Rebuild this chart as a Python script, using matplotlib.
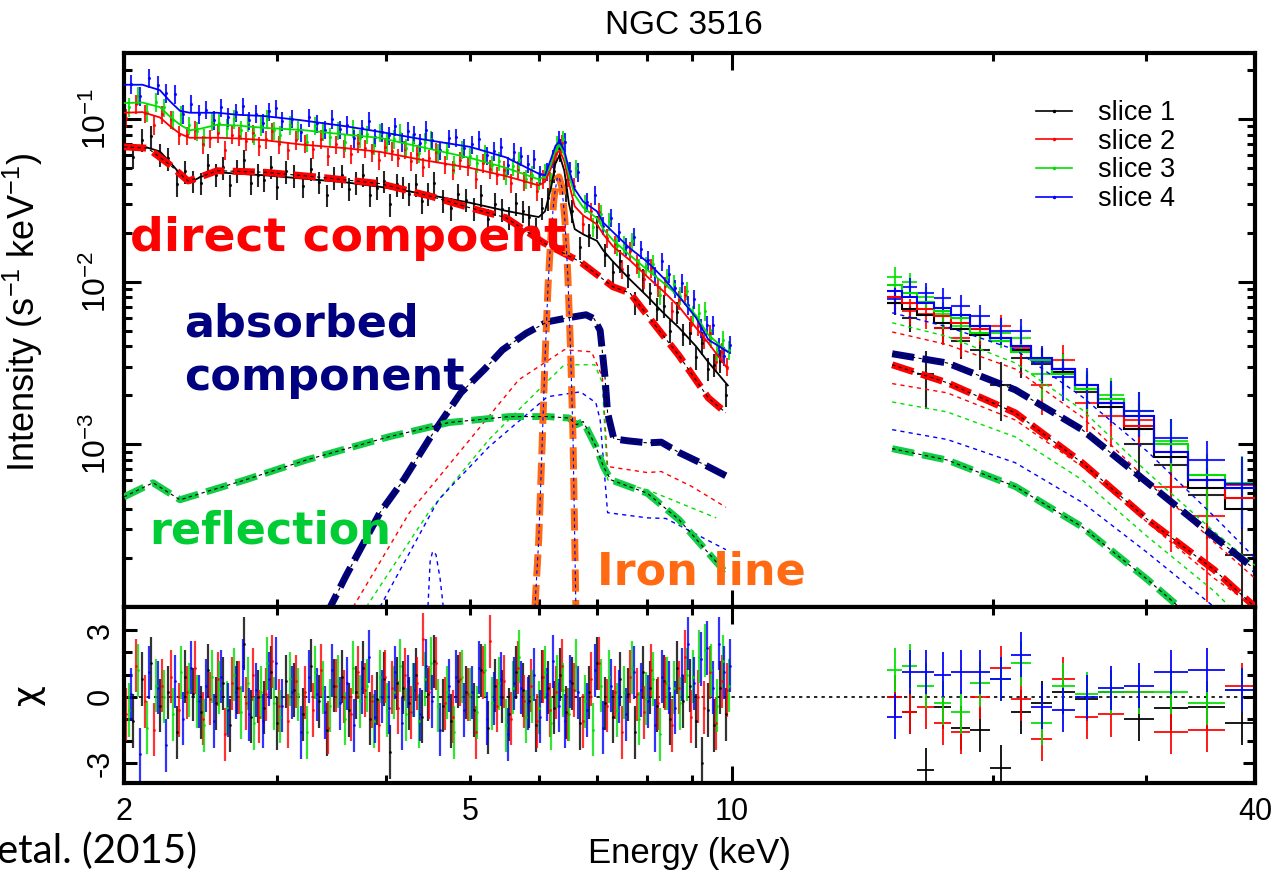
import numpy as np
import matplotlib
matplotlib.use("Agg")
import matplotlib.pyplot as plt
from matplotlib.lines import Line2D
from matplotlib.ticker import FixedLocator, FuncFormatter, NullFormatter

TITLE = "NGC 3516"
SLICE_LABELS = ["slice 1", "slice 2", "slice 3", "slice 4"]
SLICE_COLORS = ["#000000", "#ff0000", "#00e000", "#0000ff"]

# ---------------- XIS band (2-10 keV): bin energies per slice ----------------
E_LO_1 = [2.00, 2.05, 2.10, 2.15, 2.20, 2.25, 2.30, 2.35, 2.40, 2.45,
          2.50, 2.55, 2.60, 2.65, 2.70, 2.75, 2.80, 2.85, 2.90, 2.95,
          3.00, 3.07, 3.14, 3.21, 3.28, 3.35, 3.42, 3.49, 3.56, 3.63,
          3.70, 3.77, 3.84, 3.91, 3.98, 4.05, 4.12, 4.19, 4.26, 4.33,
          4.40, 4.47, 4.55, 4.65, 4.75, 4.85, 4.95, 5.05, 5.15, 5.25,
          5.35, 5.45, 5.55, 5.65, 5.75, 5.85, 5.95, 6.05, 6.15, 6.25,
          6.35, 6.45, 6.55, 6.70, 6.85, 7.00, 7.15, 7.30, 7.45, 7.60,
          7.75, 7.90, 8.05, 8.20, 8.35, 8.50, 8.65, 8.80, 8.95, 9.10,
          9.25, 9.40, 9.55, 9.70, 9.85]
E_LO_2 = [2.013, 2.063, 2.113, 2.163, 2.213, 2.263, 2.313, 2.363, 2.413, 2.463,
          2.513, 2.563, 2.613, 2.663, 2.713, 2.763, 2.813, 2.863, 2.913, 2.963,
          3.013, 3.088, 3.158, 3.228, 3.298, 3.368, 3.438, 3.508, 3.578, 3.648,
          3.718, 3.788, 3.858, 3.928, 3.998, 4.068, 4.138, 4.208, 4.278, 4.348,
          4.418, 4.488, 4.575, 4.675, 4.775, 4.875, 4.975, 5.075, 5.175, 5.275,
          5.375, 5.475, 5.575, 5.675, 5.775, 5.875, 5.975, 6.075, 6.175, 6.275,
          6.375, 6.475, 6.588, 6.738, 6.888, 7.038, 7.188, 7.338, 7.488, 7.638,
          7.788, 7.938, 8.088, 8.238, 8.388, 8.538, 8.688, 8.838, 8.988, 9.138,
          9.288, 9.438, 9.588, 9.738, 9.888]
E_LO_3 = [2.025, 2.075, 2.125, 2.175, 2.225, 2.275, 2.325, 2.375, 2.425, 2.475,
          2.525, 2.575, 2.625, 2.675, 2.725, 2.775, 2.825, 2.875, 2.925, 2.975,
          3.025, 3.105, 3.175, 3.245, 3.315, 3.385, 3.455, 3.525, 3.595, 3.665,
          3.735, 3.805, 3.875, 3.945, 4.015, 4.085, 4.155, 4.225, 4.295, 4.365,
          4.435, 4.505, 4.60, 4.70, 4.80, 4.90, 5.00, 5.10, 5.20, 5.30,
          5.40, 5.50, 5.60, 5.70, 5.80, 5.90, 6.00, 6.10, 6.20, 6.30,
          6.40, 6.50, 6.625, 6.775, 6.925, 7.075, 7.225, 7.375, 7.525, 7.675,
          7.825, 7.975, 8.125, 8.275, 8.425, 8.575, 8.725, 8.875, 9.025, 9.175,
          9.325, 9.475, 9.625, 9.775, 9.925]
E_LO_4 = [2.038, 2.088, 2.138, 2.188, 2.238, 2.288, 2.338, 2.388, 2.438, 2.488,
          2.538, 2.588, 2.638, 2.688, 2.738, 2.788, 2.838, 2.888, 2.938, 2.988,
          3.038, 3.123, 3.193, 3.263, 3.333, 3.403, 3.473, 3.543, 3.613, 3.683,
          3.753, 3.823, 3.893, 3.963, 4.033, 4.103, 4.173, 4.243, 4.313, 4.383,
          4.453, 4.523, 4.625, 4.725, 4.825, 4.925, 5.025, 5.125, 5.225, 5.325,
          5.425, 5.525, 5.625, 5.725, 5.825, 5.925, 6.025, 6.125, 6.225, 6.325,
          6.425, 6.525, 6.663, 6.813, 6.963, 7.113, 7.263, 7.413, 7.563, 7.713,
          7.863, 8.013, 8.163, 8.313, 8.463, 8.613, 8.763, 8.913, 9.063, 9.213,
          9.363, 9.513, 9.663, 9.813, 9.963]

FLUX_LO_1 = [0.0684, 0.0582, 0.0745, 0.0779, 0.0600, 0.0573, 0.0396, 0.0476, 0.0415, 0.0403,
             0.0521, 0.0453, 0.0504, 0.0392, 0.0482, 0.0557, 0.0406, 0.0452, 0.0423, 0.0506,
             0.0379, 0.0475, 0.0450, 0.0388, 0.0495, 0.0409, 0.0340, 0.0435, 0.0449, 0.0372,
             0.0406, 0.0452, 0.0341, 0.0378, 0.0415, 0.0298, 0.0396, 0.0381, 0.0346, 0.0396,
             0.0311, 0.0348, 0.0404, 0.0316, 0.0282, 0.0345, 0.0318, 0.0282, 0.0340, 0.0241,
             0.0301, 0.0278, 0.0246, 0.0302, 0.0271, 0.0251, 0.0213, 0.0283, 0.0325, 0.0479,
             0.0650, 0.0366, 0.0273, 0.0162, 0.0194, 0.0218, 0.0146, 0.0115, 0.0134, 0.0109,
             0.0074, 0.0103, 0.0085, 0.0068, 0.0071, 0.0050, 0.0065, 0.00475, 0.00484, 0.00342,
             0.0042, 0.00291, 0.00309, 0.00327, 0.00202]
FLUX_LO_2 = [0.1012, 0.1233, 0.1080, 0.0917, 0.1066, 0.0995, 0.0795, 0.0794, 0.0855, 0.0696,
             0.0758, 0.0820, 0.0646, 0.0801, 0.0785, 0.0733, 0.0816, 0.0684, 0.0747, 0.0837,
             0.0699, 0.0640, 0.0744, 0.0705, 0.0649, 0.0752, 0.0587, 0.0696, 0.0660, 0.0607,
             0.0712, 0.0658, 0.0624, 0.0555, 0.0673, 0.0636, 0.0578, 0.0650, 0.0550, 0.0609,
             0.0508, 0.0571, 0.0627, 0.0526, 0.0487, 0.0557, 0.0515, 0.0427, 0.0536, 0.0494,
             0.0449, 0.0484, 0.0405, 0.0485, 0.0415, 0.0431, 0.0361, 0.0427, 0.0416, 0.0611,
             0.0709, 0.0436, 0.0384, 0.0225, 0.0270, 0.0269, 0.0185, 0.0169, 0.0120, 0.0155,
             0.0128, 0.0104, 0.0121, 0.0092, 0.0094, 0.0066, 0.0077, 0.0083, 0.0054, 0.0053,
             0.0044, 0.0048, 0.0032, 0.0037, 0.0030]
FLUX_LO_3 = [0.1183, 0.1391, 0.1101, 0.1275, 0.1180, 0.0984, 0.1055, 0.0914, 0.0845, 0.0768,
             0.0962, 0.0943, 0.0877, 0.0997, 0.0853, 0.0951, 0.0798, 0.0904, 0.0999, 0.0851,
             0.0798, 0.0920, 0.0857, 0.0717, 0.0908, 0.0844, 0.0777, 0.0847, 0.0718, 0.0873,
             0.0761, 0.0803, 0.0688, 0.0824, 0.0714, 0.0754, 0.0819, 0.0662, 0.0718, 0.0617,
             0.0720, 0.0749, 0.0624, 0.0642, 0.0526, 0.0648, 0.0588, 0.0532, 0.0613, 0.0523,
             0.0551, 0.0449, 0.0511, 0.0557, 0.0427, 0.0451, 0.0417, 0.0470, 0.0410, 0.0691,
             0.0750, 0.0483, 0.0496, 0.0302, 0.0217, 0.0261, 0.0235, 0.0166, 0.0169, 0.0177,
             0.0121, 0.0125, 0.0128, 0.0083, 0.0106, 0.0097, 0.0082, 0.0088, 0.0063, 0.0064,
             0.0066, 0.0045, 0.0037, 0.0044, 0.0038]
FLUX_LO_4 = [0.1635, 0.1387, 0.1780, 0.1616, 0.1446, 0.1424, 0.1074, 0.1240, 0.1070, 0.1139,
             0.0982, 0.1178, 0.1026, 0.1094, 0.1194, 0.0979, 0.1078, 0.0942, 0.1115, 0.1163,
             0.0974, 0.1003, 0.0826, 0.1024, 0.0940, 0.0859, 0.0999, 0.0863, 0.0919, 0.0758,
             0.0875, 0.0975, 0.0768, 0.0834, 0.0794, 0.0900, 0.0720, 0.0845, 0.0804, 0.0715,
             0.0855, 0.0736, 0.0639, 0.0759, 0.0771, 0.0662, 0.0699, 0.0750, 0.0597, 0.0635,
             0.0671, 0.0518, 0.0628, 0.0592, 0.0531, 0.0568, 0.0456, 0.0475, 0.0572, 0.0740,
             0.0720, 0.0480, 0.0472, 0.0309, 0.0341, 0.0221, 0.0247, 0.0202, 0.0164, 0.0189,
             0.0158, 0.0136, 0.0108, 0.0133, 0.0112, 0.0091, 0.0098, 0.0072, 0.0078, 0.0052,
             0.0054, 0.0054, 0.0040, 0.0035, 0.0041]
RELERR_LO = [0.16, 0.13, 0.13, 0.13]

# residuals (chi) for the XIS bins
CHI_LO_1 = [0.3, -1.1, 0.8, 1.5, -0.4, 0.2, -1.6, 0.9, 0.1, -0.7,
            1.2, -0.3, 0.6, -1.3, 0.4, 2.4, -0.9, 0.0, -0.5, 1.1,
            -1.2, 0.7, 0.3, -0.8, 1.4, -0.2, -1.5, 0.5, 0.9, -0.6,
            0.2, 1.3, -1.0, -0.1, 0.8, -2.5, 0.6, 0.4, -0.3, 1.0,
            -0.9, 0.1, 1.6, -0.4, -1.1, 0.7, 0.2, -0.6, 1.2, -1.4,
            0.5, 0.0, -0.8, 1.1, 0.3, -0.2, -1.3, 0.9, 0.4, -0.5,
            1.0, -0.7, 0.6, -1.2, 0.2, 1.5, -0.3, -0.9, 0.8, 0.1,
            -1.6, 1.1, 0.4, -0.4, 0.7, -1.0, 1.3, -0.2, 0.5, -1.1,
            -3.0, -0.6, -1.3, 0.4, -0.8]
CHI_LO_2 = [-0.8, 1.4, -0.2, -1.5, 0.5, 0.9, -0.6, 0.2, 1.3, -1.0,
            -0.1, 0.8, -1.7, 0.6, 0.4, -0.3, 1.0, -0.9, 0.1, 1.6,
            -0.4, -1.1, 0.7, 0.2, -0.6, 1.2, -1.4, 0.5, 0.0, -0.8,
            1.1, 0.3, -0.2, -1.3, 0.9, 0.4, -0.5, 1.0, -0.7, 0.6,
            2.6, 0.2, 1.5, -0.3, -0.9, 0.8, 0.1, -1.6, 1.1, 2.5,
            -0.4, 0.7, -1.0, 1.3, -0.2, 0.5, -1.1, 0.9, -0.6, 0.2,
            1.4, -0.8, 0.3, -1.1, 0.8, 1.5, -0.4, 0.2, -1.6, 0.9,
            0.1, -0.7, 1.2, -0.3, 0.6, -1.3, 0.4, 1.8, -0.9, 0.0,
            -0.5, 1.1, -1.2, 0.7, 0.3]
CHI_LO_3 = [-0.6, 1.2, -1.4, 0.5, 0.0, -0.8, 1.1, 0.3, -0.2, -1.3,
            0.9, 0.4, -0.5, 1.0, -0.7, 0.6, -1.2, 0.2, 1.5, -0.3,
            -0.9, 0.8, 0.1, -1.6, 1.1, 0.4, -0.4, 0.7, -1.0, 1.3,
            -0.2, 0.5, -1.1, 0.9, -0.6, 0.2, 1.4, -0.8, 0.3, -1.1,
            0.8, 1.5, -0.4, 0.2, -1.6, 0.9, 0.1, -0.7, 1.2, -0.3,
            0.6, -1.3, 0.4, 1.8, -0.9, 0.0, -0.5, 1.1, -1.2, 0.7,
            0.3, -0.8, 1.4, -0.2, -1.5, 0.5, 0.9, -0.6, 0.2, 1.3,
            -1.0, -0.1, 0.8, -1.7, 0.6, 0.4, -0.3, 1.0, 0.9, 1.8,
            2.1, 1.2, -0.4, 1.6, 0.5]
CHI_LO_4 = [0.1, -2.6, 1.1, 0.4, -2.2, 0.7, -1.0, 1.3, -0.2, 0.5,
            -1.1, 0.9, -0.6, 0.2, 1.4, -0.8, 0.3, -1.1, 0.8, 1.5,
            -0.4, 0.2, -1.6, 0.9, 0.1, -0.7, 1.2, -0.3, 0.6, -1.3,
            0.4, 1.8, -0.9, 0.0, -0.5, 1.1, -1.2, 0.7, 0.3, -0.8,
            1.4, -0.2, -1.5, 0.5, 0.9, -0.6, 0.2, 1.3, -1.0, -0.1,
            0.8, -1.7, 0.6, 0.4, -0.3, 1.0, -0.9, 0.1, 1.6, -0.4,
            -1.1, 0.7, 0.2, -0.6, 1.2, -1.4, 0.5, 0.0, -0.8, 1.1,
            0.3, -0.2, -1.3, 0.9, 0.4, -0.5, 1.0, 2.4, 0.6, 1.7,
            2.2, 0.4, 2.4, 1.1, 1.4]

# folded best-fit model for each slice (XIS band)
E_MOD_LO = [2.0, 2.1, 2.2, 2.26, 2.32, 2.38, 2.45, 2.56, 2.7, 2.9,
            3.2, 3.6, 3.94, 4.4, 5.0, 5.5, 6.0, 6.1, 6.2, 6.27,
            6.34, 6.42, 6.5, 6.6, 6.75, 7.0, 7.12, 7.3, 7.64, 8.0,
            8.35, 8.7, 9.1, 9.4, 9.9]
MOD_LO_1 = [0.066, 0.068, 0.063, 0.054, 0.046, 0.0404, 0.044, 0.047, 0.046, 0.045,
            0.043, 0.0407, 0.0382, 0.0348, 0.0305, 0.0272, 0.0249, 0.027, 0.038, 0.053,
            0.060, 0.048, 0.030, 0.021, 0.0195, 0.0178, 0.0155, 0.0133, 0.0103, 0.0081,
            0.0064, 0.0052, 0.0040, 0.0032, 0.0023]
MOD_LO_2 = [0.109, 0.110, 0.102, 0.090, 0.081, 0.0765, 0.0765, 0.0765, 0.0758, 0.074,
            0.0695, 0.066, 0.0627, 0.056, 0.050, 0.0445, 0.039, 0.041, 0.050, 0.060,
            0.064, 0.055, 0.040, 0.029, 0.0255, 0.0225, 0.0195, 0.0165, 0.0135, 0.0107,
            0.0087, 0.0070, 0.0052, 0.0042, 0.0029]
MOD_LO_3 = [0.125, 0.126, 0.118, 0.103, 0.092, 0.085, 0.087, 0.092, 0.091, 0.088,
            0.0855, 0.080, 0.0764, 0.067, 0.0576, 0.050, 0.0425, 0.044, 0.053, 0.064,
            0.069, 0.060, 0.045, 0.034, 0.0285, 0.0245, 0.021, 0.018, 0.0145, 0.0118,
            0.0098, 0.0081, 0.0062, 0.0047, 0.0037]
MOD_LO_4 = [0.162, 0.162, 0.150, 0.128, 0.112, 0.109, 0.109, 0.109, 0.106, 0.104,
            0.098, 0.090, 0.0832, 0.075, 0.0673, 0.058, 0.046, 0.045, 0.057, 0.068,
            0.073, 0.064, 0.049, 0.037, 0.031, 0.027, 0.023, 0.0202, 0.0160, 0.0132,
            0.0105, 0.0081, 0.0060, 0.0044, 0.0037]

# ---------------- HXD band (15-40 keV) ----------------
HX_EDGES = [15.1, 15.7, 16.35, 17.1, 17.9, 18.8, 19.85, 20.95, 22.1, 23.35,
            24.8, 26.4, 28.3, 30.6, 33.5, 36.9, 40.4]
HX_MOD_1 = [0.0074, 0.0068, 0.0062, 0.0056, 0.0051, 0.0047, 0.0043, 0.0038,
            0.0033, 0.0028, 0.0022, 0.0017, 0.00125, 0.00083, 0.00054, 0.00040]
HX_MOD_2 = [0.0080, 0.0074, 0.0068, 0.0061, 0.0056, 0.0051, 0.0045, 0.0040,
            0.0033, 0.0029, 0.0022, 0.0018, 0.0013, 0.0009, 0.0006, 0.00047]
HX_MOD_3 = [0.0095, 0.0085, 0.0075, 0.0066, 0.0060, 0.0048, 0.0043, 0.0037,
            0.0033, 0.0027, 0.0022, 0.0019, 0.0015, 0.0010, 0.00065, 0.00054]
HX_MOD_4 = [0.0087, 0.0080, 0.0074, 0.0069, 0.0062, 0.0053, 0.0045, 0.0040,
            0.0034, 0.0029, 0.0023, 0.0018, 0.0015, 0.0009, 0.0006, 0.00054]
HX_FLUX_1 = [0.0074, 0.0060, 0.0027, 0.0052, 0.0043, 0.0038, 0.0023, 0.0034,
             0.0031, 0.0029, 0.0021, 0.0018, 0.0010, 0.00075, 0.00049, 0.00021]
HX_FLUX_2 = [0.0080, 0.0066, 0.0063, 0.0052, 0.0045, 0.0051, 0.0053, 0.0039,
             0.0023, 0.0033, 0.0018, 0.0015, 0.0014, 0.00055, 0.00036, 0.00056]
HX_FLUX_3 = [0.0107, 0.0100, 0.0080, 0.0063, 0.0053, 0.0053, 0.0048, 0.0045,
             0.0027, 0.0029, 0.0022, 0.0020, 0.0016, 0.00105, 0.00060, 0.00058]
HX_FLUX_4 = [0.0078, 0.0092, 0.0085, 0.0079, 0.0071, 0.0061, 0.0050, 0.0050,
             0.0032, 0.0026, 0.0023, 0.0019, 0.0016, 0.0011, 0.0008, 0.00057]
HX_RELERR = [0.16, 0.16, 0.17, 0.18, 0.19, 0.20, 0.21, 0.22,
             0.24, 0.26, 0.28, 0.30, 0.33, 0.37, 0.42, 0.50]
HX_CHI_1 = [0.0, -0.7, -3.3, -0.45, -1.4, -1.5, -3.2, -0.7, -0.3, 0.2, -0.1, 0.2, -1.0, -0.5, -0.45, -1.2]
HX_CHI_2 = [0.0, -0.7, -0.45, -1.2, -1.6, 0.0, 1.3, -0.1, -1.9, 0.8, -0.9, -0.8, 0.2, -1.6, -1.5, 0.5]
HX_CHI_3 = [1.2, 1.4, 0.5, -0.3, -0.7, 0.6, 0.8, 1.5, -1.2, 0.5, 0.1, 0.2, 0.2, 0.2, -0.3, 0.3]
HX_CHI_4 = [-0.9, 1.1, 1.1, 1.0, 1.1, 1.1, 0.8, 1.9, -0.45, -0.6, 0.0, 0.4, 0.5, 1.1, 1.2, 0.3]

# ---------------- model components ----------------
# direct (slice 1)
E_DIR_LO = [2.0, 2.13, 2.26, 2.37, 2.45, 2.56, 2.9, 3.4, 3.94, 4.5,
            5.0, 5.5, 6.08, 6.7, 7.3, 7.64, 8.0, 8.7, 9.4, 9.85]
DIR_LO_1 = [0.0673, 0.066, 0.052, 0.0415, 0.044, 0.048, 0.047, 0.0435, 0.040, 0.0335,
            0.0284, 0.0247, 0.0173, 0.0132, 0.0093, 0.0085, 0.0062, 0.0035, 0.00193, 0.00156]
# absorbed (slices 1-4)
E_ABS_LO_1 = [3.42, 3.6, 3.94, 4.2, 4.5, 4.88, 5.2, 5.45, 5.8, 6.14, 6.5, 6.8,
              6.95, 7.06, 7.15, 7.2, 7.32, 7.6, 8.0, 8.3, 8.7, 9.3, 9.85]
ABS_LO_1 = [9.0e-5, 1.55e-4, 3.8e-4, 6.1e-4, 1.1e-3, 2.07e-3, 2.9e-3, 3.8e-3, 4.8e-3, 5.66e-3,
            6.0e-3, 6.25e-3, 5.9e-3, 5.0e-3, 2.6e-3, 1.56e-3, 1.08e-3, 1.05e-3, 1.02e-3,
            1.03e-3, 8.9e-4, 7.5e-4, 6.4e-4]
E_ABS_LO_2 = [3.67, 4.26, 5.0, 5.69, 6.42, 6.9, 7.1, 7.2, 8.0, 8.3, 9.0, 9.85]
ABS_LO_2 = [1.0e-4, 3.8e-4, 1.07e-3, 2.49e-3, 3.81e-3, 3.7e-3, 2.6e-3, 7.3e-4, 6.7e-4, 6.8e-4, 5.5e-4, 4.1e-4]
E_ABS_LO_3 = [3.8, 4.48, 5.26, 6.0, 6.42, 6.96, 7.1, 7.2, 8.0, 9.6]
ABS_LO_3 = [1.0e-4, 3.8e-4, 1.07e-3, 2.16e-3, 3.08e-3, 3.08e-3, 2.39e-3, 6.05e-4, 5.25e-4, 3.53e-4]
E_ABS_LO_4 = [3.94, 4.6, 5.26, 6.14, 6.7, 6.98, 7.06, 7.2, 8.0, 8.4, 9.85]
ABS_LO_4 = [1.0e-4, 4.56e-4, 9.66e-4, 1.96e-3, 2.1e-3, 1.8e-3, 1.41e-3, 3.8e-4, 3.53e-4, 3.5e-4, 2.25e-4]
# reflection
E_REF_LO = [2.0, 2.16, 2.32, 2.76, 3.24, 4.03, 4.73, 5.55, 6.14, 6.5, 6.63, 6.75,
            6.98, 7.12, 7.26, 8.0, 8.7, 9.85]
REF_LO = [4.75e-4, 5.8e-4, 4.56e-4, 6.05e-4, 8.0e-4, 1.11e-3, 1.36e-3, 1.48e-3, 1.48e-3,
          1.45e-3, 1.32e-3, 1.38e-3, 9.7e-4, 7.3e-4, 6.05e-4, 5.0e-4, 3.44e-4, 1.62e-4]
# iron K-alpha line
E_FE = [5.94, 6.0, 6.05, 6.1, 6.15, 6.2, 6.25, 6.3, 6.33, 6.38, 6.43, 6.48, 6.53, 6.57, 6.62]
FE_LINE = [1.0e-4, 2.6e-4, 9e-4, 3.3e-3, 9.5e-3, 0.020, 0.033, 0.043, 0.044, 0.038,
           0.024, 0.011, 3.6e-3, 1.1e-3, 1.0e-4]
# weak narrow feature
E_WEAK = [4.47, 4.50, 4.53, 4.57, 4.62, 4.67]
WEAK_LINE = [0.9e-4, 1.9e-4, 2.2e-4, 2.1e-4, 1.5e-4, 0.9e-4]

# HXD-band components
E_COMP_HX = [15.3, 17.7, 21.2, 25.3, 30.1, 35.9, 40.0]
ABS_HX_1 = [3.6e-3, 3.16e-3, 2.16e-3, 1.23e-3, 5.8e-4, 2.7e-4, 1.7e-4]
DIR_HX_1 = [3.08e-3, 2.39e-3, 1.56e-3, 7.7e-4, 3.44e-4, 1.69e-4, 1.0e-4]
REF_HX = [9.4e-4, 8.0e-4, 5.5e-4, 3.11e-4, 1.47e-4, 6.5e-5, 4.0e-5]
DIR_HX_2 = [4.9e-3, 4.1e-3, 2.9e-3, 1.47e-3, 6.0e-4, 2.5e-4, 1.5e-4]
DIR_HX_3 = [5.58e-3, 4.6e-3, 3.16e-3, 1.63e-3, 6.7e-4, 2.9e-4, 1.8e-4]
DIR_HX_4 = [6.43e-3, 5.27e-3, 3.81e-3, 1.96e-3, 9.0e-4, 3.6e-4, 2.0e-4]
ABS_HX_2 = [2.36e-3, 2.07e-3, 1.41e-3, 7.3e-4, 3.3e-4, 1.5e-4, 1.0e-4]
ABS_HX_3 = [1.82e-3, 1.58e-3, 1.11e-3, 6.05e-4, 2.7e-4, 1.25e-4, 7.0e-5]
ABS_HX_4 = [1.23e-3, 1.07e-3, 7.7e-4, 4.4e-4, 2.15e-4, 1.0e-4, 6.0e-5]

# axis setup values
X_MAJOR = [2, 10, 40]
X_MINOR = [3, 4, 5, 6, 7, 8, 9, 20, 30]
X_LABELS = {2: "2", 5: "5", 10: "10", 40: "40"}

# ---------------- figure ----------------
plt.rcParams["font.family"] = ["Liberation Sans", "DejaVu Sans"]
plt.rcParams["mathtext.fontset"] = "custom"
plt.rcParams["mathtext.rm"] = "Liberation Sans"
plt.rcParams["mathtext.it"] = "Liberation Sans:italic"
plt.rcParams["mathtext.bf"] = "Liberation Sans:bold"

fig = plt.figure(figsize=(12.74, 8.74), dpi=100)
ax = fig.add_axes([0.0973, 0.3055, 0.8878, 0.6339])
ax2 = fig.add_axes([0.0973, 0.1041, 0.8878, 0.2014], sharex=ax)

hx_edges = np.array(HX_EDGES)
hx_mid = 0.5 * (hx_edges[:-1] + hx_edges[1:])
hx_half = 0.5 * np.diff(hx_edges)

slices = [
    (E_LO_1, FLUX_LO_1, MOD_LO_1, CHI_LO_1, HX_FLUX_1, HX_MOD_1, HX_CHI_1),
    (E_LO_2, FLUX_LO_2, MOD_LO_2, CHI_LO_2, HX_FLUX_2, HX_MOD_2, HX_CHI_2),
    (E_LO_3, FLUX_LO_3, MOD_LO_3, CHI_LO_3, HX_FLUX_3, HX_MOD_3, HX_CHI_3),
    (E_LO_4, FLUX_LO_4, MOD_LO_4, CHI_LO_4, HX_FLUX_4, HX_MOD_4, HX_CHI_4),
]

for i, (elo, flo, mlo, clo, fhx, mhx, chx) in enumerate(slices):
    c = SLICE_COLORS[i]
    f = np.array(flo)
    ax.errorbar(elo, f, yerr=RELERR_LO[i] * f, fmt=".", ms=2.5, color=c,
                elinewidth=1.5, capsize=0, alpha=0.85, zorder=2)
    ax.plot(E_MOD_LO, mlo, color=c, lw=1.3, zorder=3)
    m = np.array(mhx)
    ax.errorbar(hx_mid, fhx, xerr=hx_half, yerr=np.array(HX_RELERR) * m, fmt="none",
                ecolor=c, elinewidth=1.5, capsize=0, alpha=0.85, zorder=2)
    ax.stairs(mhx, hx_edges, baseline=None, color=c, lw=1.5, zorder=3)
    ax2.errorbar(elo, clo, yerr=1.2, fmt=".", ms=2, color=c, elinewidth=1.6,
                 capsize=0, alpha=0.8, zorder=2)
    ax2.errorbar(hx_mid, chx, xerr=hx_half, yerr=1.0, fmt="none", ecolor=c,
                 elinewidth=1.4, capsize=0, alpha=0.9, zorder=2)

# thin dotted components for slices 2-4
dot = (0, (3, 3))
for e, v, c in [(E_ABS_LO_2, ABS_LO_2, SLICE_COLORS[1]),
                (E_ABS_LO_3, ABS_LO_3, SLICE_COLORS[2]),
                (E_ABS_LO_4, ABS_LO_4, SLICE_COLORS[3]),
                (E_COMP_HX, ABS_HX_2, SLICE_COLORS[1]),
                (E_COMP_HX, ABS_HX_3, SLICE_COLORS[2]),
                (E_COMP_HX, ABS_HX_4, SLICE_COLORS[3]),
                (E_COMP_HX, DIR_HX_2, SLICE_COLORS[1]),
                (E_COMP_HX, DIR_HX_3, SLICE_COLORS[2]),
                (E_COMP_HX, DIR_HX_4, SLICE_COLORS[3]),
                (E_WEAK, WEAK_LINE, SLICE_COLORS[3])]:
    ax.plot(e, v, color=c, lw=1.0, ls=dot, zorder=3)

# thick highlighted components (slice 1)
thick = (0, (3.2, 1.2))
NAVY, RED, GREEN, ORANGE = "#000080", "#ff0000", "#11cc44", "#ff6a13"
for e, v, c in [(E_DIR_LO, DIR_LO_1, RED), (E_COMP_HX, DIR_HX_1, RED),
                (E_ABS_LO_1, ABS_LO_1, NAVY), (E_COMP_HX, ABS_HX_1, NAVY),
                (E_REF_LO, REF_LO, GREEN), (E_COMP_HX, REF_HX, GREEN),
                (E_FE, FE_LINE, ORANGE)]:
    ax.plot(e, v, color=c, lw=5, ls=thick, zorder=5)
    ax.plot(e, v, color="black" if c != ORANGE else "#0000ff", lw=0.8,
            ls=(0, (3, 3)), zorder=6)

# annotations
ann = dict(transform=ax.transAxes, family="DejaVu Sans", weight="bold",
           va="baseline", ha="left", zorder=7)
ax.text(0.005, 0.6426, "direct compoent", color=RED, size=34, **ann)
ax.text(0.053, 0.4874, "absorbed", color=NAVY, size=32, **ann)
ax.text(0.053, 0.3917, "component", color=NAVY, size=32, **ann)
ax.text(0.022, 0.1155, "reflection", color="#00cc33", size=32, **ann)
ax.text(0.418, 0.0397, "Iron line", color="#ff6a13", size=32, **ann)

# legend
handles = [Line2D([], [], color=c, lw=1.2, marker=".", ms=3) for c in SLICE_COLORS]
ax.legend(handles, SLICE_LABELS, loc="upper left", bbox_to_anchor=(0.806, 0.915),
          frameon=False, fontsize=19.5, handlelength=1.35, handletextpad=0.95,
          labelspacing=0.1, borderpad=0, borderaxespad=0)

# residual zero line
ax2.axhline(0, color="black", lw=1.2, ls=(0, (2, 2.5)), zorder=1)

# axes styling
for a in (ax, ax2):
    a.set_xscale("log")
    a.set_xlim(2, 40)
    a.xaxis.set_major_locator(FixedLocator(X_MAJOR))
    a.xaxis.set_minor_locator(FixedLocator(X_MINOR))
    a.tick_params(which="both", direction="in", top=True, right=True, width=2.2,
                  labelsize=22)
    a.tick_params(which="major", length=12)
    a.tick_params(which="minor", length=6)
    for s in a.spines.values():
        s.set_linewidth(3)

ax.xaxis.set_major_formatter(NullFormatter())
ax.xaxis.set_minor_formatter(NullFormatter())
ax.tick_params(axis="x", which="both", labelbottom=False)

lab = lambda v, p: X_LABELS.get(int(round(v)), "") if abs(v - round(v)) < 1e-9 else ""
ax2.xaxis.set_major_formatter(FuncFormatter(lab))
ax2.xaxis.set_minor_formatter(FuncFormatter(lab))
ax2.tick_params(axis="x", which="both", pad=10, labelsize=22)

ax.set_yscale("log")
ax.set_ylim(1e-4, 0.254)
ax.yaxis.set_major_locator(FixedLocator([1e-3, 1e-2, 1e-1]))
ax.yaxis.set_major_formatter(FuncFormatter(lambda v, p: r"$10^{%d}$" % round(np.log10(v))))
ax.yaxis.set_minor_locator(FixedLocator(
    [k * 10.0 ** p for p in (-4, -3, -2, -1) for k in range(2, 10) if k * 10.0 ** p < 0.25]))
ax.yaxis.set_minor_formatter(NullFormatter())
ax.tick_params(axis="y", which="major", labelrotation=90, pad=8, labelsize=23)

ax2.set_ylim(-3.9, 4.05)
ax2.yaxis.set_major_locator(FixedLocator([-3, 0, 3]))
ax2.yaxis.set_major_formatter(FuncFormatter(lambda v, p: "%d" % v))
ax2.yaxis.set_minor_locator(FixedLocator([-2, -1, 1, 2]))
ax2.tick_params(axis="y", which="major", labelrotation=90, pad=6, labelsize=22, length=9)

for lbl in ax.get_yticklabels() + ax2.get_yticklabels():
    lbl.set_va("center")

ax.set_ylabel("Intensity (s$^{-1}$ keV$^{-1}$)", fontsize=26)
ax.yaxis.set_label_coords(-0.07, 0.532)
ax2.set_ylabel("χ", fontsize=26, family="DejaVu Sans")
ax2.yaxis.set_label_coords(-0.07, 0.5)

fig.text(0.537, 0.971, TITLE, ha="center", va="center", fontsize=24)
fig.text(0.541, 0.0126, "Energy (keV)", ha="center", va="baseline", fontsize=25)
fig.text(-0.002, 0.0125, "etal. (2015)", ha="left", va="baseline", fontsize=29,
         family="Lato")

fig.savefig("out.png", dpi=100)
